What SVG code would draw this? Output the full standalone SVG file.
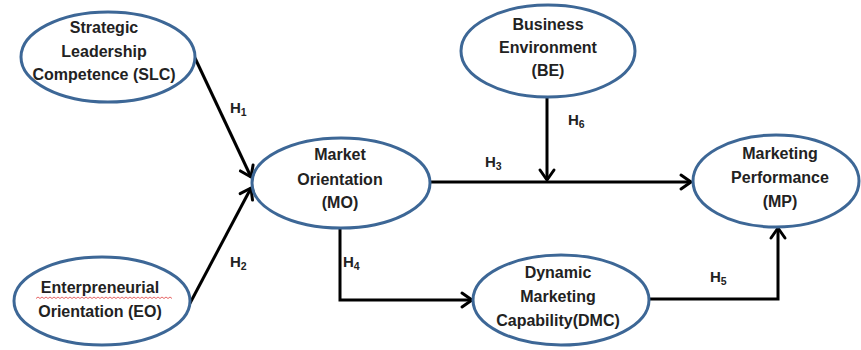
<svg xmlns="http://www.w3.org/2000/svg" width="861" height="350" viewBox="0 0 861 350">
<defs>
<style>
.node ellipse{fill:#fff;stroke:#3d6796;stroke-width:3}
.node text{font-family:"Liberation Sans",Arial,sans-serif;font-weight:bold;font-size:16px;fill:#222;text-anchor:middle}
.lbl{font-family:"Liberation Sans",Arial,sans-serif;font-weight:bold;font-size:15px;fill:#222}
.lbl tspan.s{font-size:10.5px}
.conn line,.conn polyline{fill:none;stroke:#000;stroke-width:3}
</style>
<marker id="arr" markerUnits="userSpaceOnUse" markerWidth="20" markerHeight="20" viewBox="-12 -10 14 20" refX="0" refY="0" orient="auto">
<path d="M-10,-7 L0,0 L-10,7" fill="none" stroke="#000" stroke-width="3" stroke-linejoin="round" stroke-linecap="round"/>
</marker>
</defs>
<rect width="861" height="350" fill="#fff"/>
<g id="connectors" class="conn">
<line x1="195" y1="58" x2="251" y2="177" marker-end="url(#arr)"/>
<line x1="188" y1="307" x2="251" y2="188" marker-end="url(#arr)"/>
<line x1="430" y1="182" x2="691" y2="182" marker-end="url(#arr)"/>
<line x1="547" y1="97" x2="547" y2="180" marker-end="url(#arr)"/>
<polyline points="340,228 340,300 472,300" marker-end="url(#arr)"/>
<polyline points="649,299 778,299 778,228" marker-end="url(#arr)"/>
</g>
<g id="SLC" class="node">
<ellipse cx="108" cy="57" rx="87" ry="45"/>
<text x="104" y="33">Strategic</text>
<text x="104" y="57">Leadership</text>
<text x="104" y="80">Competence (SLC)</text>
</g>
<g id="EO" class="node">
<ellipse cx="102" cy="301" rx="88" ry="44"/>
<text x="100" y="293">Enterpreneurial</text>
<text x="100" y="317">Orientation (EO)</text>
<path d="M36,298.5 l2,-1.5 l2,1.5 l2,-1.5 l2,1.5 l2,-1.5 l2,1.5 l2,-1.5 l2,1.5 l2,-1.5 l2,1.5 l2,-1.5 l2,1.5 l2,-1.5 l2,1.5 l2,-1.5 l2,1.5 l2,-1.5 l2,1.5 l2,-1.5 l2,1.5 l2,-1.5 l2,1.5 l2,-1.5 l2,1.5 l2,-1.5 l2,1.5 l2,-1.5 l2,1.5 l2,-1.5 l2,1.5 l2,-1.5 l2,1.5 l2,-1.5 l2,1.5 l2,-1.5 l2,1.5 l2,-1.5 l2,1.5 l2,-1.5 l2,1.5 l2,-1.5 l2,1.5 l2,-1.5 l2,1.5 l2,-1.5 l2,1.5 l2,-1.5 l2,1.5 l2,-1.5 l2,1.5 l2,-1.5 l2,1.5 l2,-1.5 l2,1.5 l2,-1.5 l2,1.5 l2,-1.5 l2,1.5 l2,-1.5 l2,1.5 l2,-1.5 l2,1.5 l2,-1.5 l2,1.5 l2,-1.5 l2,1.5 l2,-1.5 l2,1.5" fill="none" stroke="#e04040" stroke-width="0.8"/>
</g>
<g id="MO" class="node">
<ellipse cx="341" cy="183" rx="89" ry="45"/>
<text x="340" y="160">Market</text>
<text x="340" y="185">Orientation</text>
<text x="340" y="208">(MO)</text>
</g>
<g id="BE" class="node">
<ellipse cx="548" cy="51" rx="87" ry="46"/>
<text x="548" y="30">Business</text>
<text x="548" y="53">Environment</text>
<text x="548" y="76">(BE)</text>
</g>
<g id="MP" class="node">
<ellipse cx="776" cy="181" rx="83" ry="46"/>
<text x="780" y="159">Marketing</text>
<text x="780" y="183">Performance</text>
<text x="780" y="207">(MP)</text>
</g>
<g id="DMC" class="node">
<ellipse cx="561" cy="300" rx="88" ry="45"/>
<text x="558" y="278">Dynamic</text>
<text x="558" y="302">Marketing</text>
<text x="558" y="326">Capability(DMC)</text>
</g>
<g id="labels">
<text class="lbl" x="230" y="113">H<tspan class="s" dy="3">1</tspan></text>
<text class="lbl" x="230" y="267">H<tspan class="s" dy="3">2</tspan></text>
<text class="lbl" x="485" y="167">H<tspan class="s" dy="3">3</tspan></text>
<text class="lbl" x="343" y="267">H<tspan class="s" dy="3">4</tspan></text>
<text class="lbl" x="710" y="282">H<tspan class="s" dy="3">5</tspan></text>
<text class="lbl" x="568" y="125">H<tspan class="s" dy="3">6</tspan></text>
</g>
</svg>
